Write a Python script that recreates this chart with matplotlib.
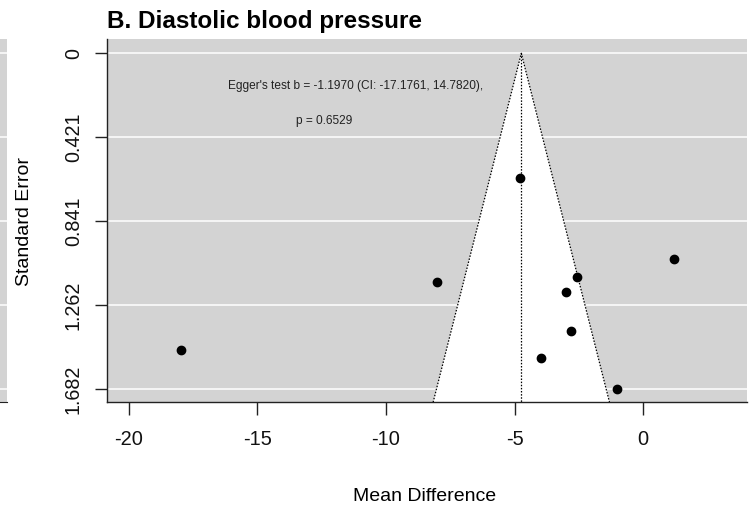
import matplotlib
matplotlib.use("Agg")
import matplotlib.pyplot as plt

plt.rcParams['font.family'] = ['Liberation Sans', 'DejaVu Sans']

# ---- data ----
mean_diff = [-4.78, -8.01, -2.59, -3.00, -2.81, -3.99, -1.02, 1.19, -17.96]
std_err = [0.626, 1.147, 1.121, 1.194, 1.391, 1.528, 1.680, 1.029, 1.486]
pooled_estimate = -4.74
y_ticks = [0, 0.4205, 0.841, 1.2615, 1.682]
y_tick_labels = ['0', '0.421', '0.841', '1.262', '1.682']
x_ticks = [-20, -15, -10, -5, 0]
x_tick_labels = ['-20', '-15', '-10', '-5', '0']
title = 'B. Diastolic blood pressure'
egger_line1 = "Egger's test b = -1.1970 (CI: -17.1761, 14.7820),"
egger_line2 = 'p = 0.6529'

W, H = 753, 512
fig = plt.figure(figsize=(W / 100, H / 100), dpi=100)

xlim = (-20.855, 4.02)
ylim = (1.749, -0.070)

ax_l, ax_r, ax_t, ax_b = 106.7, 746.7, 39.3, 402.3
ax = fig.add_axes([ax_l / W, 1 - ax_b / H, (ax_r - ax_l) / W, (ax_b - ax_t) / H])
gray = '#d3d3d3'
ax.set_facecolor(gray)
ax.set_xlim(*xlim)
ax.set_ylim(*ylim)

for yt in y_ticks:
    ax.axhline(yt, color='white', lw=1.1, zorder=1)

se_bottom = ylim[0]
ax.fill([pooled_estimate, pooled_estimate - 1.96 * se_bottom, pooled_estimate + 1.96 * se_bottom],
        [0, se_bottom, se_bottom], color='white', zorder=2, lw=0)
dot = (0, (1.2, 1.3))
ax.plot([pooled_estimate - 1.96 * se_bottom, pooled_estimate, pooled_estimate + 1.96 * se_bottom],
        [se_bottom, 0, se_bottom], color='black', lw=0.9, ls=dot, zorder=3)
ax.plot([pooled_estimate, pooled_estimate], [0, se_bottom], color='black', lw=0.9, ls=dot, zorder=3)

ax.plot(mean_diff, std_err, 'o', color='black', ms=6, zorder=4, clip_on=False)

ax.text(-11.17, 0.179, egger_line1, ha='center', va='baseline', fontsize=8.6, color='#222222', zorder=5)
ax.text(-12.40, 0.356, egger_line2, ha='center', va='baseline', fontsize=8.6, color='#222222', zorder=5)

for s in ['top', 'right']:
    ax.spines[s].set_visible(False)
for s in ['left', 'bottom']:
    ax.spines[s].set_color('#222222')
    ax.spines[s].set_linewidth(1.0)

ax.set_xticks(x_ticks)
ax.set_xticklabels(x_tick_labels, fontsize=14.4, color='#111111')
ax.set_yticks(y_ticks)
ax.set_yticklabels(y_tick_labels, fontsize=14.2, rotation=90, va='center', color='#111111')
ax.tick_params(axis='x', length=9.6, width=1.0, color='#222222', pad=10)
ax.tick_params(axis='y', length=8.6, width=1.0, color='#222222', pad=8.6)

fig.text(107 / W, 1 - 28.3 / H, title, ha='left', va='baseline', fontsize=17.5, fontweight='bold')
fig.text(425 / W, 1 - 501 / H, 'Mean Difference', ha='center', va='baseline', fontsize=14)
fig.text(24.5 / W, 1 - 221 / H, 'Standard Error', ha='center', va='center', rotation=90, fontsize=14)

# sliver of neighbouring panel at the left edge
ax2 = fig.add_axes([0, 1 - ax_b / H, 7.3 / W, (ax_b - ax_t) / H])
ax2.set_facecolor(gray)
ax2.set_ylim(*ylim)
ax2.set_xlim(0, 1)
for yt in y_ticks:
    ax2.axhline(yt, color='white', lw=1.1)
for s in ['top', 'right', 'left']:
    ax2.spines[s].set_visible(False)
ax2.spines['bottom'].set_color('#222222')
ax2.set_xticks([])
ax2.set_yticks([])

fig.savefig('out.png', dpi=100)
